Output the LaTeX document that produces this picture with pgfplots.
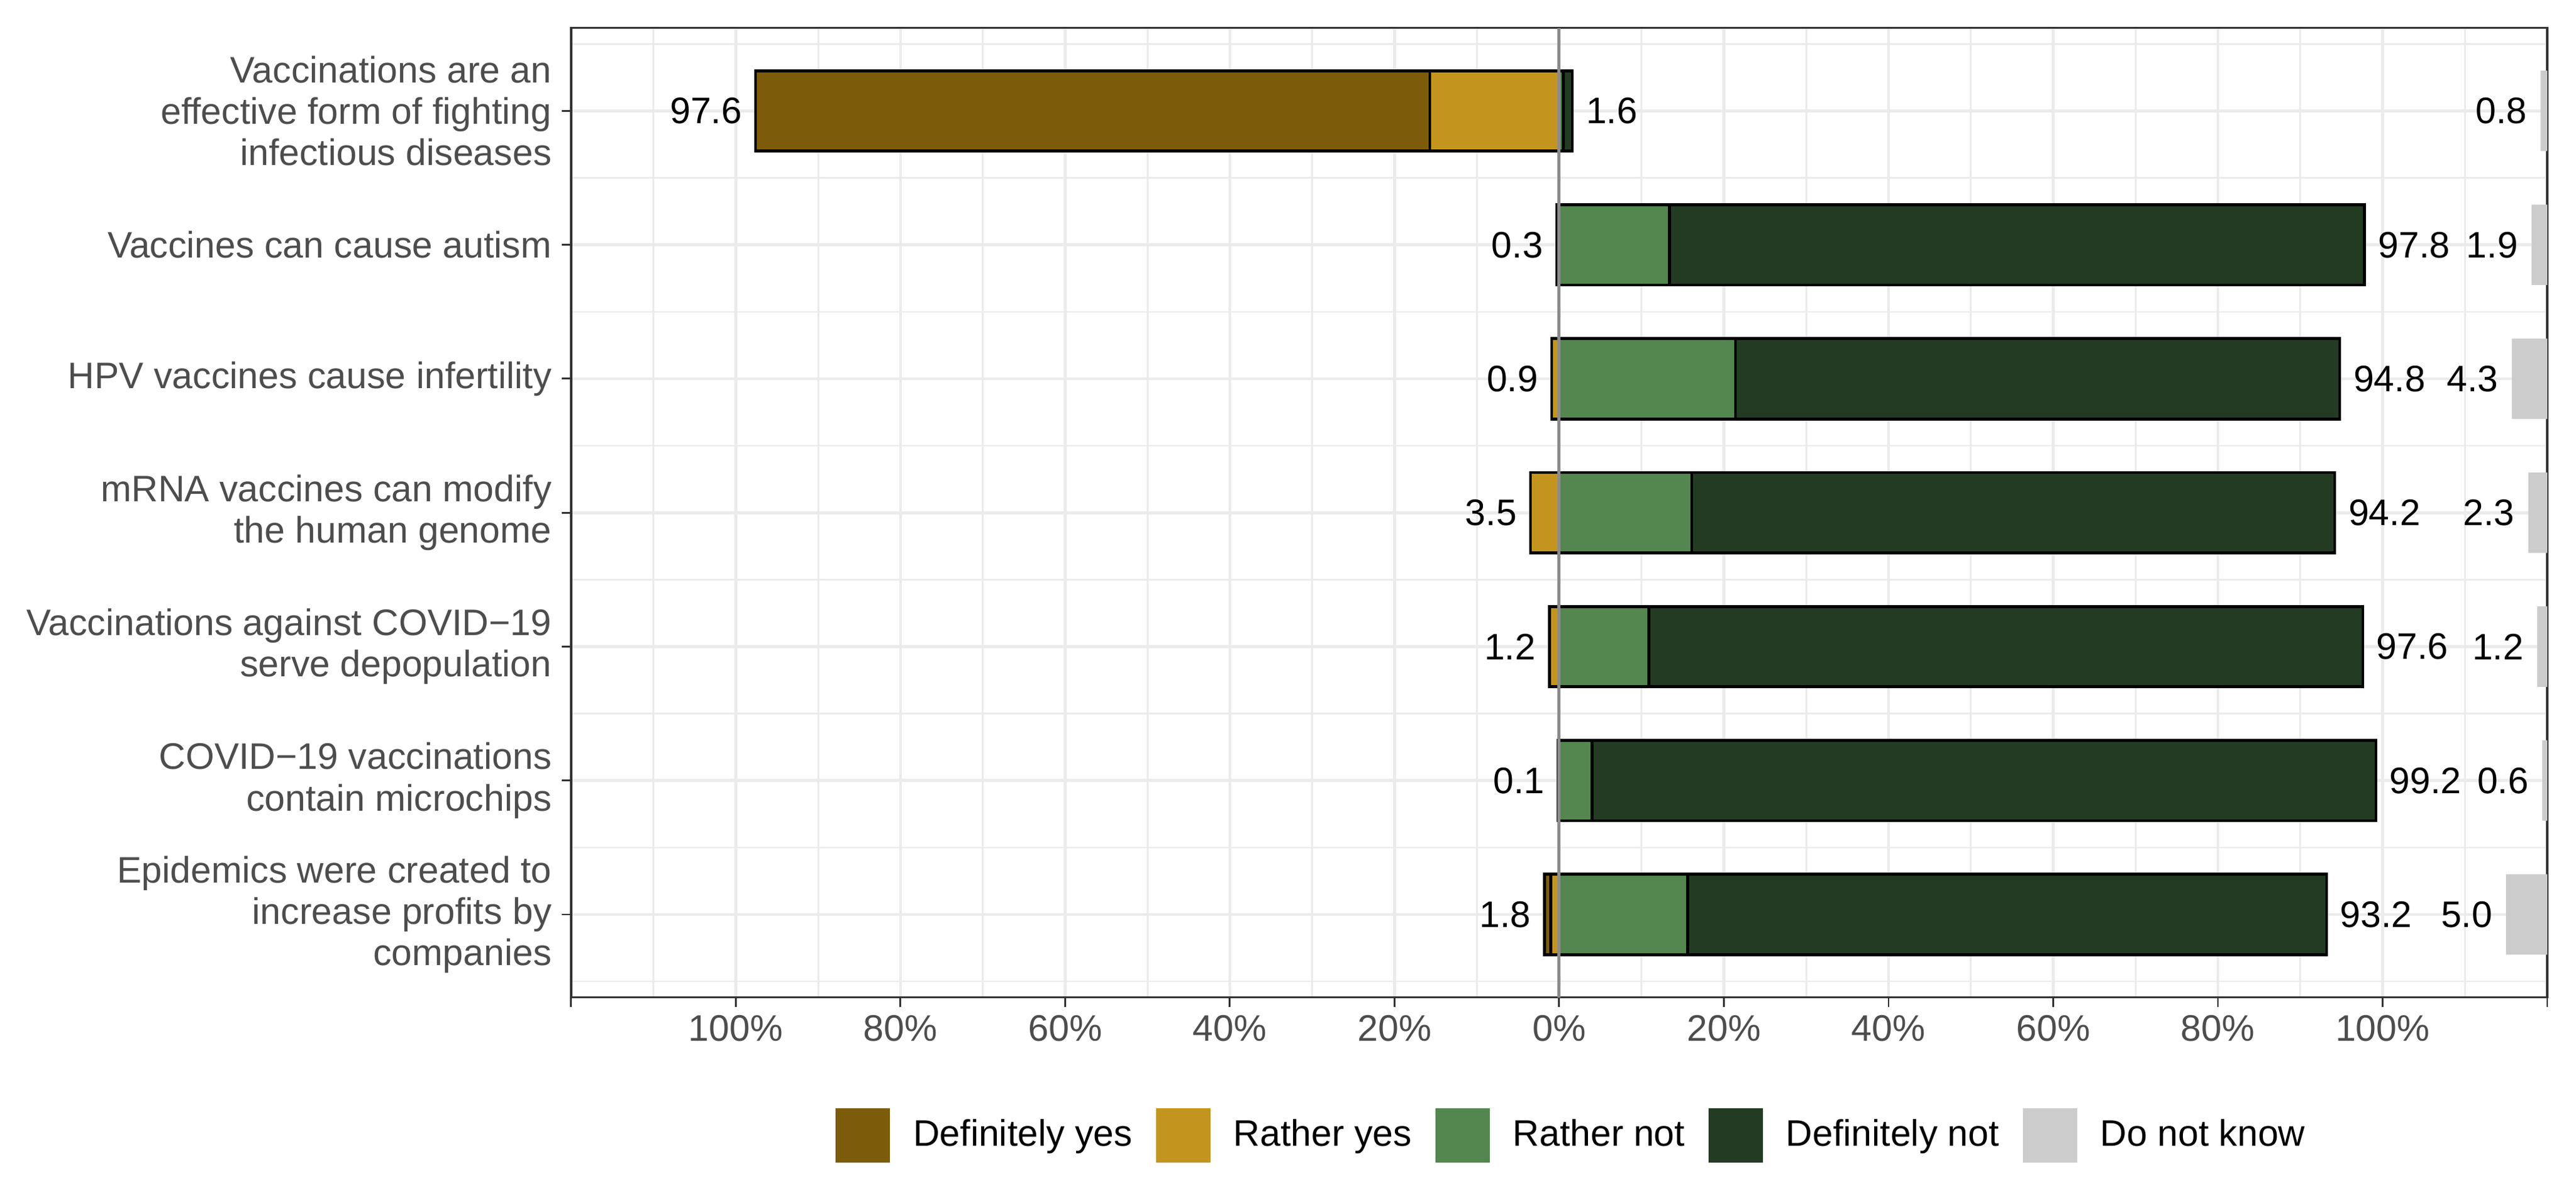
\documentclass[border=0pt]{standalone}
\usepackage{fontspec}
\setmainfont{Liberation Sans}
\usepackage{pgfplots}
\pgfplotsset{compat=1.18}
\usepackage{pgfplotstable}

\definecolor{dy}{HTML}{7C5B0B}
\definecolor{ry}{HTML}{C4951E}
\definecolor{rn}{HTML}{53874F}
\definecolor{dn}{HTML}{243B23}
\definecolor{dk}{HTML}{CCCCCC}
\definecolor{gridc}{HTML}{EBEBEB}
\definecolor{axc}{HTML}{333333}
\definecolor{tickc}{HTML}{4D4D4D}
\definecolor{zeroc}{HTML}{8C8C8C}

% row, shares in percent; yes / no are the totals printed beside the bars
\pgfplotstableread{
row dy   ry   rn   dn   dk  yes  no
1   81.9 15.7 0.5  1.1  0.8 97.6 1.6
2   0.0  0.3  13.4 84.4 1.9 0.3  97.8
3   0.0  0.9  21.4 73.4 4.3 0.9  94.8
4   0.0  3.5  16.1 78.1 2.3 3.5  94.2
5   0.0  1.2  10.9 86.7 1.2 1.2  97.6
6   0.0  0.1  4.0  95.2 0.6 0.1  99.2
7   0.8  1.0  15.6 77.6 5.0 1.8  93.2
}\data

\pgfplotsset{
  common/.style={
    scale only axis, width=535.9pt, height=262.9pt,
    xmin=-120, xmax=120, ymin=0.38, ymax=7.62, y dir=reverse,
  },
}
\tikzset{lbl/.style={font=\fontsize{10}{12}\selectfont, text=black}}

\begin{document}
\begin{tikzpicture}
\begin{axis}[
  common, name=main,
  xbar, bar width=0.6, bar shift=0pt,
  xtick={-120,-100,...,120},
  xticklabels={,100\%,80\%,60\%,40\%,20\%,0\%,20\%,40\%,60\%,80\%,100\%,},
  minor xtick={-110,-90,...,110},
  ytick={1,...,7},
  yticklabels={
    {Vaccinations are an\\effective form of fighting\\infectious diseases},
    {Vaccines can cause autism},
    {HPV vaccines cause infertility},
    {mRNA vaccines can modify\\the human genome},
    {Vaccinations against COVID−19\\serve depopulation},
    {COVID−19 vaccinations\\contain microchips},
    {Epidemics were created to\\increase profits by\\companies}},
  minor ytick={0.5,1.5,...,7.5},
  grid=both,
  major grid style={gridc, line width=0.8pt},
  minor grid style={gridc, line width=0.45pt},
  tick align=outside, tick pos=left,
  major tick length=2.6pt, minor tick length=0pt,
  tick style={axc, line width=0.5pt},
  axis line style={axc, line width=0.55pt},
  ticklabel style={font=\fontsize{10}{11.2}\selectfont, text=tickc},
  yticklabel style={align=right, inner sep=2.5pt},
  xticklabel style={inner sep=2pt},
  every axis plot/.append style={draw=black, line width=0.8pt},
]
\addplot[fill=dy, nodes near coords, point meta=explicit symbolic,
  every node near coord/.append style={lbl, anchor=east}]
  table[x expr=-\thisrow{yes}, y=row, meta=yes] {\data};
\addplot[fill=dn, nodes near coords, point meta=explicit symbolic,
  every node near coord/.append style={lbl, anchor=west}]
  table[x=no, y=row, meta=no] {\data};
\addplot[fill=ry] table[x expr=-\thisrow{ry}, y=row] {\data};
\addplot[fill=rn] table[x=rn, y=row] {\data};
% invisible bars ending where the grey bars start: they carry the "do not know" labels
\addplot[draw=none, fill=none, nodes near coords, point meta=explicit symbolic,
  every node near coord/.append style={lbl, anchor=east}]
  table[x expr=120-\thisrow{dk}, y=row, meta=dk] {\data};
\end{axis}

\begin{axis}[
  common,
  xbar stacked, bar width=0.6,
  xtick={0}, xticklabels={}, ytick=\empty,
  xmajorgrids, major grid style={zeroc, line width=0.85pt},
  axis line style={draw=none}, major tick length=0pt,
  legend columns=5,
  legend image code/.code={\path[#1,draw=none] (0pt,-7.35pt) rectangle (14.7pt,7.35pt);},
  legend style={draw=none, fill=none, at={(0.5057,-0.1421)}, anchor=center,
    font=\fontsize{10}{12}\selectfont, text=black,
    nodes={inner sep=0pt}, column sep=0pt,
    /tikz/every odd column/.append style={column sep=6.3pt},
    /tikz/every even column/.append style={column sep=6.4pt}},
]
\addlegendimage{fill=dy}
\addlegendimage{fill=ry}
\addlegendimage{fill=rn}
\addlegendimage{fill=dn}
\addlegendimage{fill=dk}
\addplot[draw=none, fill=none, forget plot] table[x expr=120-\thisrow{dk}, y=row] {\data};
\addplot[fill=dk, draw=none, forget plot] table[x=dk, y=row] {\data};
\legend{Definitely yes, Rather yes, Rather not, Definitely not, Do not know}
\end{axis}

\pgfresetboundingbox
\path ([xshift=-154.9pt, yshift=-52.65pt]main.south west) rectangle ([xshift=7.8pt, yshift=7.56pt]main.north east);
\end{tikzpicture}
\end{document}
